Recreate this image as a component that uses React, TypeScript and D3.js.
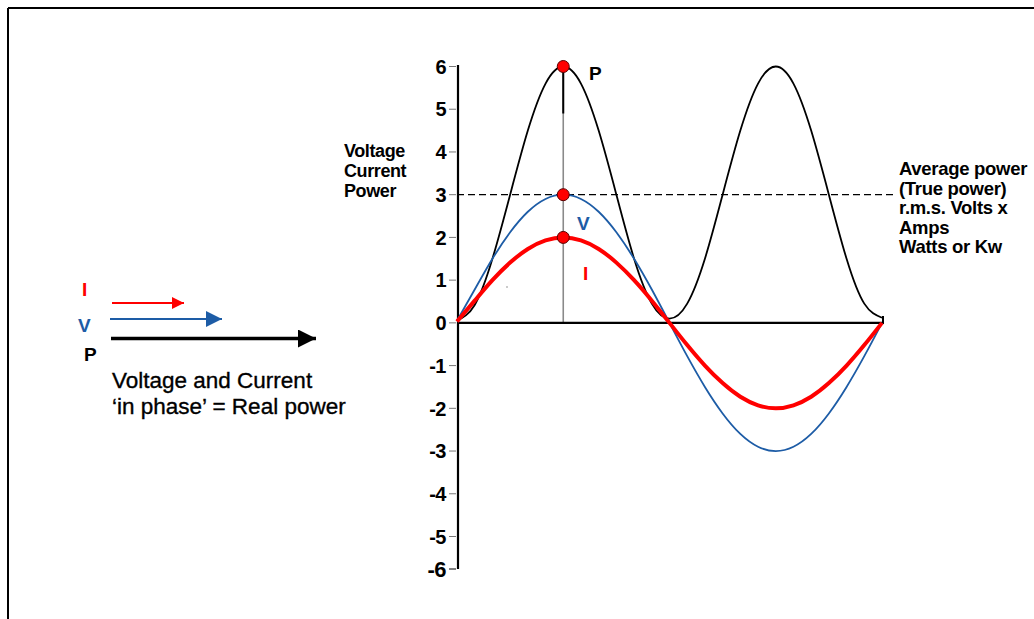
import React from "react";
import * as d3 from "d3";

// Phase angle (degrees) of each sample
const angles = [0, 15, 30, 45, 60, 75, 90, 105, 120, 135, 150, 165, 180, 195, 210, 225, 240, 255, 270, 285, 300, 315, 330, 345, 360];
// Voltage (blue)
const voltage = [0.05, 0.78, 1.5, 2.12, 2.6, 2.9, 3.0, 2.9, 2.6, 2.12, 1.5, 0.78, 0, -0.78, -1.5, -2.12, -2.6, -2.9, -3.0, -2.9, -2.6, -2.12, -1.5, -0.78, 0];
// Current (red)
const current = [0.03, 0.52, 1.0, 1.41, 1.73, 1.93, 2.0, 1.93, 1.73, 1.41, 1.0, 0.52, 0, -0.52, -1.0, -1.41, -1.73, -1.93, -2.0, -1.93, -1.73, -1.41, -1.0, -0.52, 0];
// Power (black)
const power = [0.05, 0.42, 1.5, 3.0, 4.5, 5.6, 6.0, 5.6, 4.5, 3.0, 1.5, 0.45, 0.1, 0.45, 1.5, 3.0, 4.5, 5.6, 6.0, 5.6, 4.5, 3.0, 1.5, 0.45, 0.12];

const yTicks = [6, 5, 4, 3, 2, 1, 0, -1, -2, -3, -4, -5, -6];
const averagePower = 3;
const peakAngle = 90;
const peakMarkers = [6, 3, 2];

const axisLabel = ["Voltage", "Current", "Power"];
const avgLabel = ["Average power", "(True power)", "r.m.s. Volts x", "Amps", "Watts or Kw"];
const captionLines = ["Voltage and Current", "\u2018in phase\u2019 = Real power"];

const RED = "#ff0000";
const BLUE = "#1d5ca6";
const FONT = "'Liberation Sans', Arial, sans-serif";

export default function App() {
  const x = d3.scaleLinear().domain([0, 360]).range([457, 882]);
  const y = d3.scaleLinear().domain([-6, -5, 6]).range([569, 536.5, 66.5]);

  const mk = (vals: number[]) =>
    d3
      .line<number>()
      .x((_, i) => x(angles[i]))
      .y((d) => y(d))
      .curve(d3.curveNatural)(vals) as string;

  const px = x(peakAngle);

  return (
    <svg
      width={1034}
      height={619}
      style={{ position: "absolute", left: 0, top: 0, background: "#fff" }}
      fontFamily={FONT}
    >
      <defs>
        <marker id="hr" viewBox="0 0 10 10" refX="10" refY="5" markerUnits="userSpaceOnUse" markerWidth="12" markerHeight="16" orient="auto">
          <path d="M0,0 L10,5 L0,10 Z" fill={RED} />
        </marker>
        <marker id="hb" viewBox="0 0 10 10" refX="10" refY="5" markerUnits="userSpaceOnUse" markerWidth="16" markerHeight="16" orient="auto">
          <path d="M0,0 L10,5 L0,10 Z" fill={BLUE} />
        </marker>
        <marker id="hk" viewBox="0 0 10 10" refX="10" refY="5" markerUnits="userSpaceOnUse" markerWidth="29" markerHeight="18" orient="auto">
          <path d="M0,0 L10,5 L0,10 Z" fill="#000" />
        </marker>
      </defs>

      {/* frame */}
      <line x1={8} y1={8} x2={1034} y2={8} stroke="#000" strokeWidth={2} />
      <line x1={8} y1={8} x2={8} y2={619} stroke="#000" strokeWidth={2} />

      {/* average power dashed line */}
      <line x1={x(0)} x2={893} y1={y(averagePower)} y2={y(averagePower)} stroke="#000" strokeWidth={1.2} strokeDasharray="7,4" />

      {/* vertical peak line */}
      <line x1={px} x2={px} y1={y(6)} y2={y(0)} stroke="#8a8a8a" strokeWidth={1.6} />
      <line x1={px} x2={px} y1={y(6)} y2={y(4.9)} stroke="#000" strokeWidth={2} />

      {/* y axis */}
      <line x1={458} x2={458} y1={65} y2={569} stroke="#000" strokeWidth={2.2} />
      {yTicks.map((t) => (
        <g key={t}>
          <line x1={449} x2={456} y1={y(t)} y2={y(t)} stroke={t === -6 ? "#000" : "#777"} strokeWidth={1} />
          <text x={446} y={y(t)} dy="0.36em" textAnchor="end" fontWeight="bold" fontSize={t === -6 ? 22 : 20} letterSpacing={-0.5}>
            {t}
          </text>
        </g>
      ))}

      {/* x axis */}
      <line x1={457} x2={884} y1={y(0)} y2={y(0)} stroke="#000" strokeWidth={2.4} />
      <line x1={883} x2={883} y1={316} y2={y(0)} stroke="#000" strokeWidth={2} />

      {/* curves */}
      <path d={mk(power)} fill="none" stroke="#000" strokeWidth={1.8} />
      <path d={mk(voltage)} fill="none" stroke={BLUE} strokeWidth={1.8} />
      <path d={mk(current)} fill="none" stroke={RED} strokeWidth={4} />

      {/* peak markers */}
      {peakMarkers.map((v) => (
        <circle key={v} cx={px} cy={y(v)} r={6} fill={RED} stroke="#5a0000" strokeWidth={1} />
      ))}

      <circle cx={507} cy={287} r={0.8} fill="#888" />

      {/* curve labels */}
      <text x={589} y={80} fontWeight="bold" fontSize={19} fill="#000">P</text>
      <text x={577} y={230} fontWeight="bold" fontSize={19} fill={BLUE}>V</text>
      <text x={583} y={280} fontWeight="bold" fontSize={19} fill={RED}>I</text>

      {/* axis title */}
      {axisLabel.map((s, i) => (
        <text key={s} x={344} y={157 + i * 20} fontWeight="bold" fontSize={18} letterSpacing={-0.4}>
          {s}
        </text>
      ))}

      {/* average power text */}
      {avgLabel.map((s, i) => (
        <text key={s} x={899} y={175 + i * 19.5} fontWeight="bold" fontSize={18.5} letterSpacing={-0.3}>
          {s}
        </text>
      ))}

      {/* phasor legend */}
      <text x={82} y={296} fontWeight="bold" fontSize={19} fill={RED}>I</text>
      <line x1={112} x2={184} y1={303} y2={303} stroke={RED} strokeWidth={2} markerEnd="url(#hr)" />
      <text x={78} y={332} fontWeight="bold" fontSize={19} fill={BLUE}>V</text>
      <line x1={110} x2={222} y1={319} y2={319} stroke={BLUE} strokeWidth={2} markerEnd="url(#hb)" />
      <text x={84} y={361} fontWeight="bold" fontSize={19} fill="#000">P</text>
      <line x1={111} x2={316} y1={338.5} y2={338.5} stroke="#000" strokeWidth={3.5} markerEnd="url(#hk)" />

      {captionLines.map((s, i) => (
        <text key={i} x={112} y={388 + i * 26} fontSize={22.5} stroke="#000" strokeWidth={0.35}>
          {s}
        </text>
      ))}
    </svg>
  );
}
